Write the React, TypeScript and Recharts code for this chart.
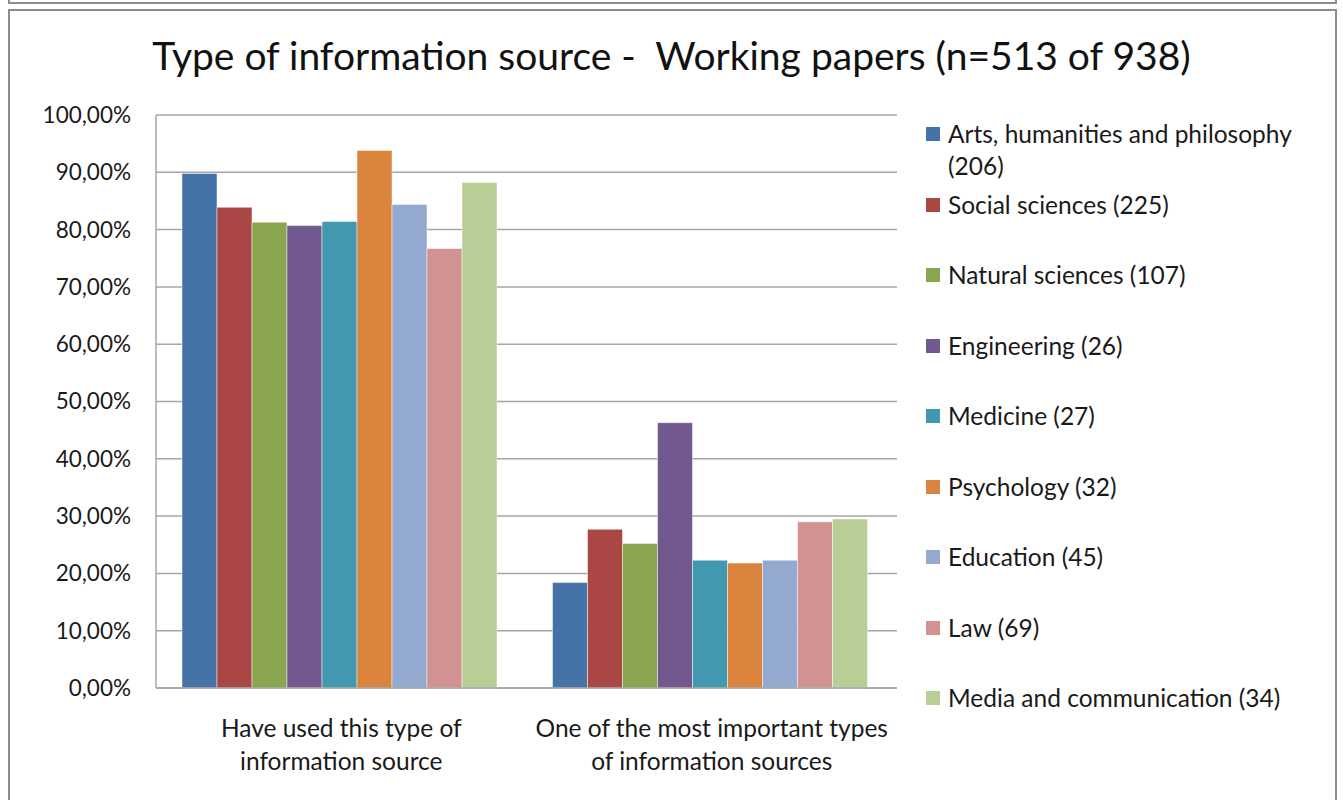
import { BarChart, Bar, XAxis, YAxis, CartesianGrid } from 'recharts'

const categories = ['Have used this type of information source', 'One of the most important types of information sources']
const categoryLines = [
  ['Have used this type of', 'information source'],
  ['One of the most important types', 'of information sources'],
]

const seriesNames = [
  'Arts, humanities and philosophy (206)',
  'Social sciences (225)',
  'Natural sciences (107)',
  'Engineering (26)',
  'Medicine (27)',
  'Psychology (32)',
  'Education (45)',
  'Law (69)',
  'Media and communication (34)',
]

const seriesColors = ['#4572A7', '#AA4643', '#89A54E', '#71588F', '#4198AF', '#DB843D', '#93A9CF', '#D19392', '#B9CD96']

// percentages per series, same order as seriesNames
const haveUsed = [89.8, 83.9, 81.3, 80.7, 81.4, 93.8, 84.4, 76.7, 88.2]
const mostImportant = [18.4, 27.7, 25.2, 46.3, 22.3, 21.8, 22.3, 29.0, 29.5]

const yTicks = [0, 10, 20, 30, 40, 50, 60, 70, 80, 90, 100]

const FONT = 'Lato, "Open Sans", sans-serif'

const chartData = categories.map((cat, i) => {
  const row: Record<string, string | number> = { name: cat }
  const vals = i === 0 ? haveUsed : mostImportant
  seriesNames.forEach((s, j) => {
    row[`s${j}`] = vals[j]
  })
  return row
})

const fmtPct = (v: number) => v.toFixed(2).replace('.', ',') + '%'

function CategoryTick(props: any) {
  const { x, y, payload } = props
  const idx = categories.indexOf(payload.value)
  const lines = categoryLines[idx] || [payload.value]
  return (
    <text x={x} y={y} textAnchor="middle" fill="#1a1a1a" fontSize={24.5} fontFamily={FONT}>
      {lines.map((l, i) => (
        <tspan key={i} x={x} dy={i === 0 ? 41 : 33}>{l}</tspan>
      ))}
    </text>
  )
}

export default function App() {
  return (
    <div style={{ position: 'absolute', left: 0, top: 0, width: 1343, height: 800, background: '#fff', overflow: 'hidden' }}>
      {/* bottom edge of the frame above */}
      <div style={{ position: 'absolute', left: 8, top: -20, width: 1325, height: 20, border: '2px solid #8c8c8c' }} />
      {/* chart frame */}
      <div style={{ position: 'absolute', left: 8, top: 9, width: 1325, height: 800, border: '2px solid #8c8c8c' }} />

      <div style={{ position: 'absolute', left: 0, top: 32, width: 1343, textAlign: 'center', fontFamily: FONT, fontSize: 39, color: '#111', whiteSpace: 'pre' }}>
        {'Type of information source -  Working papers (n=513 of 938)'}
      </div>

      <div style={{ position: 'absolute', left: 0, top: 0 }}>
        <BarChart
          width={1343}
          height={800}
          data={chartData}
          margin={{ top: 115, right: 446, bottom: 22, left: 0 }}
          barCategoryGap={26}
          barGap={0}
        >
          <CartesianGrid vertical={false} stroke="#a6a6a6" strokeWidth={1.5} />
          <XAxis
            dataKey="name"
            height={90}
            stroke="#a6a6a6"
            strokeWidth={1.5}
            tickLine={false}
            tick={<CategoryTick />}
            interval={0}
          />
          <YAxis
            width={156}
            domain={[0, 100]}
            ticks={yTicks}
            tickFormatter={fmtPct}
            stroke="#a6a6a6"
            strokeWidth={1.5}
            tickLine={false}
            tickMargin={19}
            tick={{ fill: '#1a1a1a', fontSize: 22.5, fontFamily: FONT }}
          />
          {seriesNames.map((s, j) => (
            <Bar key={s} dataKey={`s${j}`} name={s} fill={seriesColors[j]} stroke="#ffffff" strokeOpacity={0.6} strokeWidth={0.8} isAnimationActive={false} />
          ))}
        </BarChart>
      </div>

      {/* legend */}
      <div style={{ position: 'absolute', left: 926, top: 118, fontFamily: FONT, fontSize: 24.5, color: '#1a1a1a' }}>
        {seriesNames.map((s, j) => (
          <div key={s} style={{ position: 'absolute', left: 0, top: j * 70.5, width: 400, display: 'flex', alignItems: 'flex-start' }}>
            <div style={{ width: 14, height: 14, background: seriesColors[j], marginTop: 9, flex: 'none' }} />
            <div style={{ marginLeft: 8, lineHeight: '32px', width: 380, whiteSpace: 'nowrap' }}>
              {j === 0 ? (
                <>
                  {'Arts, humanities and philosophy'}
                  <br />
                  {'(206)'}
                </>
              ) : (
                s
              )}
            </div>
          </div>
        ))}
      </div>
    </div>
  )
}
